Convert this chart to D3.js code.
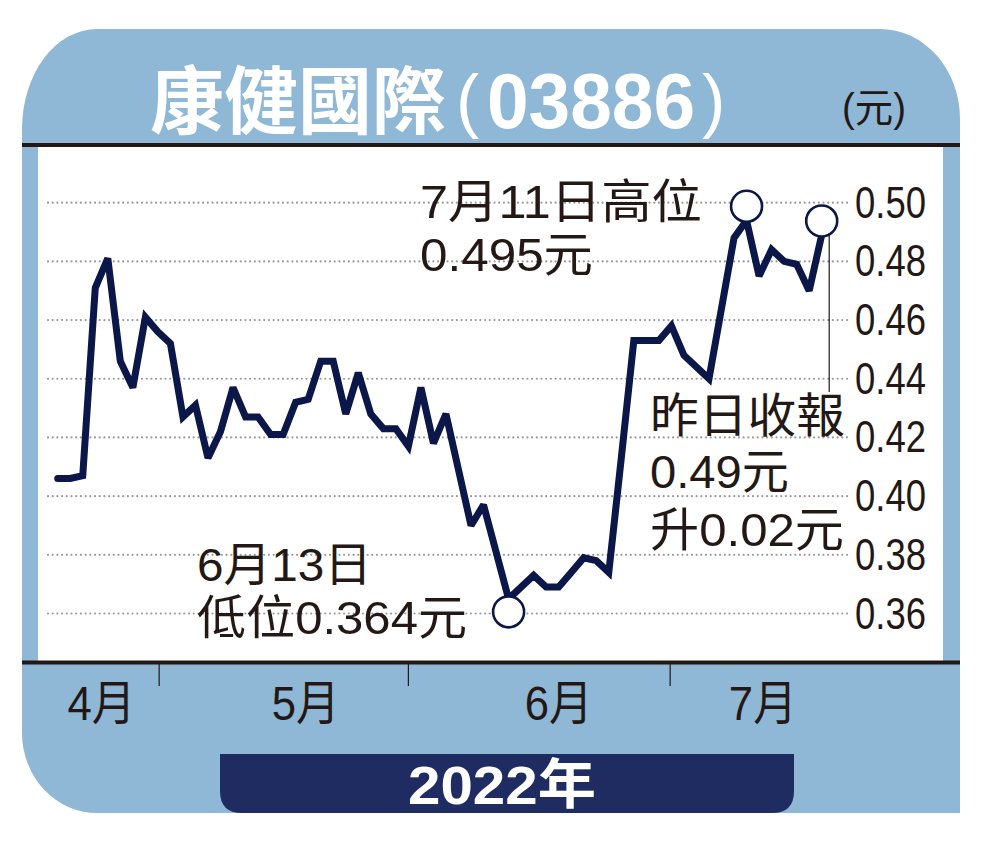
<!DOCTYPE html>
<html>
<head>
<meta charset="utf-8">
<script src="https://cdn.jsdelivr.net/npm/d3@7"></script>
<style>
  body { margin: 0; background: #fff; }
  svg { display: block; }
</style>
</head>
<body>
<svg width="1000" height="848"></svg>
<script>
// daily closes (one value per trading day)
var closes = [
  0.406, 0.406, 0.407, 0.471, 0.481, 0.446, 0.437, 0.461, 0.456, 0.452,
  0.427, 0.431, 0.413, 0.422, 0.437, 0.427, 0.427, 0.421, 0.421, 0.432,
  0.433, 0.446, 0.446, 0.428, 0.442, 0.428, 0.423, 0.423, 0.417, 0.437,
  0.418, 0.428, 0.409, 0.390, 0.397, 0.381, 0.365, 0.369, 0.373, 0.369,
  0.369, 0.374, 0.379, 0.378, 0.374, 0.413, 0.453, 0.453, 0.453, 0.458,
  0.448, 0.444, 0.440, 0.464, 0.488, 0.494, 0.475, 0.484, 0.480, 0.479,
  0.470, 0.489
];
var yTicks = [0.36, 0.38, 0.40, 0.42, 0.44, 0.46, 0.48, 0.50];
var monthLabels = ["4月", "5月", "6月", "7月"];
var monthLabelAt = [3.5, 19.8, 40, 56.3];   // index position of each label
var monthBreaks = [8.1, 28, 48.9];          // index position of month dividers
var lowIdx = 36, highIdx = 55, lastIdx = 61;

var title = "康健國際";
var code = "03886";
var unit = "(元)";
var year = "2022年";
var highNote = ["7月11日高位", "0.495元"];
var lowNote = ["6月13日", "低位0.364元"];
var lastNote = ["昨日收報", "0.49元", "升0.02元"];

var ink = "#231815",
    navy = "#0b1649",
    panel = "#8fb7d6";

var svg = d3.select("svg");

var x = d3.scaleLinear().domain([0, closes.length - 1]).range([57.7, 821.7]);
var y = d3.scaleLinear().domain([0.36, 0.50]).range([613.5, 202.7]);

// blue frame with rounded corners
svg.append("path")
  .attr("d", "M22,129 A75,100 0 0 1 97,29 L880,29 A80,90 0 0 1 960,119 L960,813 L97,813 A75,80 0 0 1 22,733 Z")
  .attr("fill", panel);

svg.append("rect")
  .attr("x", 38).attr("y", 147)
  .attr("width", 905).attr("height", 514)
  .attr("fill", "#fff");

svg.append("line").attr("x1", 22).attr("x2", 960).attr("y1", 145).attr("y2", 145)
  .attr("stroke", ink).attr("stroke-width", 4);
svg.append("line").attr("x1", 22).attr("x2", 960).attr("y1", 662.5).attr("y2", 662.5)
  .attr("stroke", ink).attr("stroke-width", 4);

// title
svg.append("text")
  .attr("x", 150).attr("y", 128)
  .attr("font-family", "'Noto Sans CJK TC', sans-serif")
  .attr("font-weight", 700).attr("font-size", 74)
  .attr("fill", "#fff")
  .text(title);
// thin brackets, bold condensed digits
svg.append("text")
  .attr("x", 456).attr("y", 124)
  .attr("font-family", "'Liberation Sans', Arial, sans-serif")
  .attr("font-size", 70)
  .attr("fill", "#fff")
  .text("(");
svg.append("text")
  .attr("x", 487).attr("y", 128)
  .attr("font-family", "'Liberation Sans', Arial, sans-serif")
  .attr("font-weight", 700).attr("font-size", 78)
  .attr("textLength", 208).attr("lengthAdjust", "spacingAndGlyphs")
  .attr("fill", "#fff")
  .text(code);
svg.append("text")
  .attr("x", 702).attr("y", 124)
  .attr("font-family", "'Liberation Sans', Arial, sans-serif")
  .attr("font-size", 70)
  .attr("fill", "#fff")
  .text(")");
svg.append("text")
  .attr("x", 842).attr("y", 122)
  .attr("font-family", "'Liberation Sans', 'Noto Sans CJK TC', sans-serif")
  .attr("font-size", 40)
  .attr("textLength", 64).attr("lengthAdjust", "spacingAndGlyphs")
  .attr("fill", ink)
  .text(unit);

// dotted grid + right-hand labels
svg.append("g").selectAll("line")
  .data(yTicks).enter().append("line")
  .attr("x1", 48).attr("x2", 851)
  .attr("y1", function(d) { return y(d); })
  .attr("y2", function(d) { return y(d); })
  .attr("stroke", "#9a9a9a").attr("stroke-width", 2.2)
  .attr("stroke-linecap", "round")
  .attr("stroke-dasharray", "0 4.7");

svg.append("g").selectAll("text")
  .data(yTicks).enter().append("text")
  .attr("x", 855)
  .attr("y", function(d) { return y(d) + 15; })
  .attr("font-family", "'Liberation Sans', Arial, sans-serif")
  .attr("font-size", 44)
  .attr("textLength", 71).attr("lengthAdjust", "spacingAndGlyphs")
  .attr("fill", ink)
  .text(function(d) { return d3.format(".2f")(d); });

// month dividers and labels
svg.append("g").selectAll("line")
  .data(monthBreaks).enter().append("line")
  .attr("x1", function(d) { return x(d); })
  .attr("x2", function(d) { return x(d); })
  .attr("y1", 664).attr("y2", 686)
  .attr("stroke", ink).attr("stroke-width", 1.2);

svg.append("g").selectAll("text")
  .data(monthLabels).enter().append("text")
  .attr("x", function(d, i) { return x(monthLabelAt[i]); })
  .attr("y", 720)
  .attr("text-anchor", "middle")
  .attr("font-family", "'Liberation Sans', 'Noto Sans CJK TC', sans-serif")
  .attr("font-size", 48)
  .attr("textLength", 68).attr("lengthAdjust", "spacingAndGlyphs")
  .attr("fill", ink)
  .text(function(d) { return d; });

// year tab
svg.append("path")
  .attr("d", "M220,754 L794,754 L794,791 Q794,813 772,813 L242,813 Q220,813 220,791 Z")
  .attr("fill", "#1e2c62");
svg.append("text")
  .attr("x", 502).attr("y", 804)
  .attr("text-anchor", "middle")
  .attr("font-family", "'Liberation Sans', 'Noto Sans CJK TC', sans-serif")
  .attr("font-weight", 700).attr("font-size", 54)
  .attr("textLength", 188).attr("lengthAdjust", "spacingAndGlyphs")
  .attr("fill", "#fff")
  .text(year);

// price line
var line = d3.line()
  .x(function(d, i) { return x(i); })
  .y(function(d) { return y(d); });

svg.append("path")
  .datum(closes)
  .attr("d", line)
  .attr("fill", "none")
  .attr("stroke", navy)
  .attr("stroke-width", 7)
  .attr("stroke-linejoin", "miter")
  .attr("stroke-miterlimit", 2.5)
  .attr("stroke-linecap", "round");

// leader from last close down to its note
svg.append("line")
  .attr("x1", x(lastIdx) + 7.5).attr("x2", x(lastIdx) + 7.5)
  .attr("y1", y(closes[lastIdx]) - 2).attr("y2", 392)
  .attr("stroke", ink).attr("stroke-width", 1.2);

// marker circles sit just outside the vertex
var marks = [
  {i: highIdx, dy: -14},
  {i: lastIdx, dy: -14},
  {i: lowIdx, dy: 13}
];
svg.append("g").selectAll("circle")
  .data(marks).enter().append("circle")
  .attr("cx", function(d) { return x(d.i); })
  .attr("cy", function(d) { return y(closes[d.i]) + d.dy; })
  .attr("r", 15.5)
  .attr("fill", "#fff")
  .attr("stroke", navy)
  .attr("stroke-width", 2.6);

// notes
function note(lines, x0, baselines, widths) {
  svg.append("g").selectAll("text")
    .data(lines).enter().append("text")
    .attr("x", x0)
    .attr("y", function(d, i) { return baselines[i]; })
    .attr("font-family", "'Liberation Sans', 'Noto Sans CJK TC', sans-serif")
    .attr("font-size", 47)
    .attr("textLength", function(d, i) { return widths[i]; })
    .attr("lengthAdjust", "spacingAndGlyphs")
    .attr("fill", ink)
    .text(function(d) { return d; });
}
note(highNote, 420, [218, 271], [282, 173]);
note(lastNote, 650, [432, 488, 546], [195, 139, 194]);
note(lowNote, 197, [581, 634], [175, 270]);
</script>
</body>
</html>
